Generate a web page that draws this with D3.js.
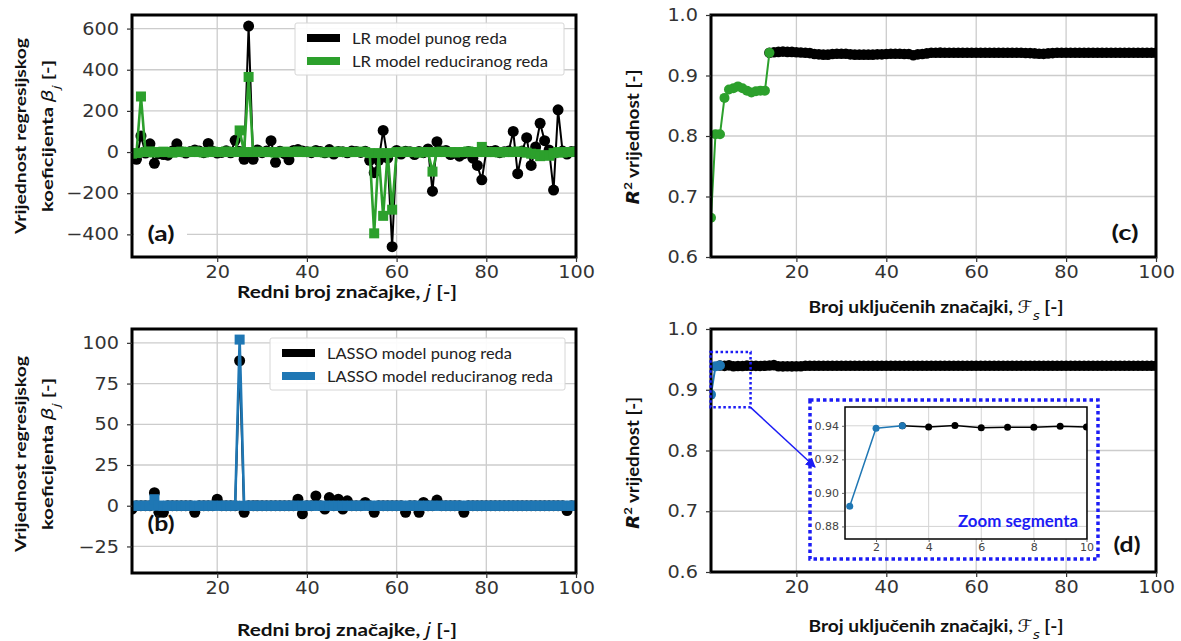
<!DOCTYPE html>
<html><head><meta charset="utf-8">
<script src="https://cdn.jsdelivr.net/npm/d3@7"></script>
<style>body{margin:0;background:#fff;} svg{display:block;}</style>
</head><body>
<svg id="chart" width="1181" height="641"></svg>
<script>
// ---------------- DATA ----------------
const featureIdx = d3.range(1, 101); // j = 1..100
const xTicks = [20, 40, 60, 80, 100];
const coefLRTicks = [-400, -200, 0, 200, 400, 600];
const coefLassoTicks = [-25, 0, 25, 50, 75, 100];
const r2Ticks = [0.6, 0.7, 0.8, 0.9, 1.0];
const insetXTicks = [2, 4, 6, 8, 10];
const insetYTicks = [0.88, 0.90, 0.92, 0.94];

const lrFull = [
 -30,-35,78,-5,40,-55,-8,-12,-15,5,
 40,2,-5,3,10,5,-3,42,4,-5,
 -2,6,-4,57,3,-35,612,-35,10,-3,
 5,55,-50,4,-8,-38,8,12,5,2,
 -3,8,3,-4,12,-10,3,2,-4,5,
 3,-2,4,-40,-100,-40,105,-30,-460,8,
 -10,4,2,-12,3,-3,15,-190,50,5,
 8,-12,-5,-20,-8,3,-30,-65,-135,5,
 3,8,-3,2,5,100,-105,5,70,-65,
 25,140,55,10,-185,205,5,-10,3,3];
const lrReduced = [
 -8,-5,270,0,3,-2,0,2,0,-3,
 0,2,0,0,3,0,-2,0,2,0,
 0,3,0,0,105,0,365,0,2,0,
 0,0,-3,0,2,0,0,3,0,0,
 2,0,0,-2,0,0,2,0,0,0,
 0,2,0,-5,-395,-5,-310,-5,-280,0,
 0,2,0,0,-3,0,0,-95,0,2,
 0,0,-2,0,0,3,0,0,25,0,
 0,0,-2,0,0,0,3,0,-3,-8,
 -10,-20,-15,-18,-5,0,-3,0,0,2];
const lassoFull = [
 -2,0,0,0,0,8,-4,-4,0,0,
 0,0,0,0,-4,0,0,0,0,4,
 0,0,0,0,89,-4,0,0,0,0,
 0,0,0,0,0,0,0,4,-5,0,
 0,6,0,-2,5,0,4,-2,3,0,
 0,0,2,0,-4,0,0,0,0,0,
 0,-4,0,0,-4,2,0,0,3.5,0,
 0,0,0,0,-4,0,0,0,0,0,
 0,0,0,0,0,0,0,0,0,0,
 0,0,0,0,0,0,0,-3,0,0];
const lassoReduced = [
 0,0,0,0,0,4,0,0,0,0,
 0,0,0,0,0,0,0,0,0,0,
 0,0,0,0,102,0,0,0,0,0,
 0,0,0,0,0,0,0,0,0,0,
 0,0,0,0,0,0,0,0,0,0,
 0,0,0,0,0,0,0,0,0,0,
 0,0,0,0,0,0,0,0,0,0,
 0,0,0,0,0,0,0,0,0,0,
 0,0,0,0,0,0,0,0,0,0,
 0,0,0,0,0,0,0,0,0,0];
const r2LR = [
 0.665,0.803,0.803,0.863,0.877,0.879,0.882,0.879,0.875,0.872,
 0.874,0.875,0.875,0.9375,0.9385,0.939,0.9395,0.939,0.939,0.9385,
 0.938,0.9375,0.937,0.9355,0.935,0.9345,0.9345,0.9355,0.936,0.936,
 0.936,0.935,0.9345,0.9345,0.9345,0.9345,0.9345,0.935,0.935,0.9355,
 0.936,0.936,0.936,0.9355,0.9355,0.9335,0.935,0.9355,0.9365,0.9375,
 0.9375,0.9378,0.9376,0.9375,0.9377,0.9376,0.9375,0.9376,0.9377,0.9375,
 0.9376,0.9375,0.9377,0.9376,0.9375,0.9376,0.9377,0.9375,0.9376,0.9375,
 0.9372,0.937,0.9365,0.936,0.9358,0.9365,0.937,0.9375,0.9376,0.9375,
 0.9377,0.9376,0.9375,0.9376,0.9377,0.9375,0.9376,0.9375,0.9377,0.9376,
 0.9375,0.9376,0.9377,0.9375,0.9376,0.9375,0.9377,0.9376,0.9375,0.9376];
const r2Lasso = [
 0.892,0.9385,0.9400,0.9393,0.9402,0.9388,0.9392,0.9392,0.9397,0.9393,
 0.9393,0.9392,0.9394,0.9398,0.9405,0.9388,0.9385,0.9386,0.9385,0.9386,
 0.9387,0.9394,0.9395,0.9396,0.9395,0.9394,0.9395,0.9396,0.9395,0.9394,
 0.9395,0.9396,0.9395,0.9394,0.9395,0.9396,0.9395,0.9394,0.9395,0.9396,
 0.9395,0.9394,0.9395,0.9396,0.9395,0.9394,0.9395,0.9396,0.9395,0.9394,
 0.9395,0.9396,0.9395,0.9394,0.9395,0.9396,0.9395,0.9394,0.9395,0.9396,
 0.9395,0.9394,0.9395,0.9396,0.9395,0.9394,0.9395,0.9396,0.9395,0.9394,
 0.9395,0.9396,0.9395,0.9394,0.9395,0.9396,0.9395,0.9394,0.9395,0.9396,
 0.9395,0.9394,0.9395,0.9396,0.9395,0.9394,0.9395,0.9396,0.9395,0.9394,
 0.9395,0.9396,0.9395,0.9394,0.9395,0.9396,0.9395,0.9394,0.9395,0.9396];
const nReducedLR = 14;     // green part of (c): features 1..14
const nReducedLasso = 3;   // blue part of (d): features 1..3

const legendLR = ["LR model punog reda", "LR model reduciranog reda"];
const legendLasso = ["LASSO model punog reda", "LASSO model reduciranog reda"];

// ---------------- STYLE ----------------
const GREEN = "#2ca02c", BLUE = "#1f77b4", BLACK = "#000";
const ZBLUE = "#1c1cf5";
const tickFont = "'DejaVu Sans', sans-serif";
const titleFont = "Lato, 'Open Sans', sans-serif";
const STRETCH = 1.1; // horizontal stretch of tick text seen in the reference

const svg = d3.select("#chart");
let clipN = 0;

function fit(sel, w) {
  sel.attr("textLength", w).attr("lengthAdjust", "spacingAndGlyphs");
}

function makePanel(box, xDom, yDom) {
  const g = svg.append("g");
  const x = d3.scaleLinear().domain(xDom).range([box.l, box.r]);
  const y = d3.scaleLinear().domain(yDom).range([box.b, box.t]);
  const id = "clip" + (clipN++);
  svg.append("clipPath").attr("id", id).append("rect")
    .attr("x", box.l).attr("y", box.t).attr("width", box.r - box.l).attr("height", box.b - box.t);
  return {g, x, y, box, clip: "url(#" + id + ")"};
}

function grid(p, xt, yt, color, w) {
  const gg = p.g.append("g").attr("clip-path", p.clip);
  gg.selectAll(".vx").data(xt).join("line")
    .attr("x1", d => p.x(d)).attr("x2", d => p.x(d)).attr("y1", p.box.t).attr("y2", p.box.b)
    .attr("stroke", color).attr("stroke-width", w);
  gg.selectAll(".hy").data(yt).join("line")
    .attr("y1", d => p.y(d)).attr("y2", d => p.y(d)).attr("x1", p.box.l).attr("x2", p.box.r)
    .attr("stroke", color).attr("stroke-width", w);
}

function axes(p, xt, yt, yfmt, opts) {
  const o = Object.assign({fs: 17.5, tick: 5, padX: 4, padY: 8, color: "#333", sw: 1.2, stretch: STRETCH}, opts || {});
  const ax = p.g.append("g").attr("transform", `translate(0,${p.box.b})`)
    .call(d3.axisBottom(p.x).tickValues(xt).tickSize(o.tick).tickPadding(o.padX).tickFormat(d3.format("d")));
  const ay = p.g.append("g").attr("transform", `translate(${p.box.l},0)`)
    .call(d3.axisLeft(p.y).tickValues(yt).tickSize(o.tick).tickPadding(o.padY).tickFormat(yfmt));
  [ax, ay].forEach(a => {
    a.select(".domain").remove();
    a.selectAll("line").attr("stroke", o.color).attr("stroke-width", o.sw);
    a.selectAll("text").attr("font-family", tickFont).attr("font-size", o.fs).attr("fill", o.color)
      .each(function () {
        const w = this.getComputedTextLength();
        d3.select(this).attr("textLength", w * o.stretch).attr("lengthAdjust", "spacingAndGlyphs");
      });
  });
}

function frame(p, w) {
  p.g.append("rect").attr("x", p.box.l).attr("y", p.box.t)
    .attr("width", p.box.r - p.box.l).attr("height", p.box.b - p.box.t)
    .attr("fill", "none").attr("stroke", "#000").attr("stroke-width", w);
}

function series(p, xs, ys, color, lw, marker, size) {
  const pts = xs.map((d, i) => [d, ys[i]]);
  const gg = p.g.append("g").attr("clip-path", p.clip);
  gg.append("path").datum(pts)
    .attr("d", d3.line().x(d => p.x(d[0])).y(d => p.y(d[1])))
    .attr("fill", "none").attr("stroke", color).attr("stroke-width", lw).attr("stroke-linejoin", "round");
  if (marker === "square") {
    gg.selectAll("rect.m").data(pts).join("rect")
      .attr("x", d => p.x(d[0]) - size / 2).attr("y", d => p.y(d[1]) - size / 2)
      .attr("width", size).attr("height", size).attr("fill", color);
  } else {
    gg.selectAll("circle.m").data(pts).join("circle")
      .attr("cx", d => p.x(d[0])).attr("cy", d => p.y(d[1])).attr("r", size).attr("fill", color);
  }
}

function legend(x0, y0, w, h, labels, colors, widths) {
  const g = svg.append("g").attr("transform", `translate(${x0},${y0})`);
  g.append("rect").attr("width", w).attr("height", h).attr("rx", 2)
    .attr("fill", "#fff").attr("fill-opacity", 0.92).attr("stroke", "#d6d6d6").attr("stroke-width", 1);
  labels.forEach((t, i) => {
    const cy = 15 + i * 23;
    g.append("rect").attr("x", 12).attr("y", cy - 4).attr("width", 33).attr("height", 8).attr("fill", colors[i]);
    const tx = g.append("text").attr("x", 57).attr("y", cy).attr("dy", "0.35em")
      .attr("font-family", titleFont).attr("font-size", 16).attr("fill", "#222").text(t);
    fit(tx, widths[i]);
  });
}

function rich(parent, parts, attrs) {
  const t = parent.append("text");
  Object.entries(attrs).forEach(([k, v]) => t.attr(k, v));
  parts.forEach(pt => {
    const s = t.append("tspan").text(pt.t);
    if (pt.italic) s.attr("font-style", "italic");
    if (pt.family) s.attr("font-family", pt.family);
    if (pt.weight) s.attr("font-weight", pt.weight);
    if (pt.sub) s.attr("baseline-shift", "sub").attr("font-size", pt.size || "70%");
    if (pt.sup) s.attr("baseline-shift", "super").attr("font-size", pt.size || "70%");
  });
  return t;
}

function panelLabel(x, y, txt, bg) {
  if (bg) svg.append("rect").attr("x", bg[0]).attr("y", bg[1]).attr("width", bg[2]).attr("height", bg[3]).attr("fill", "#fff");
  const t = svg.append("text").attr("x", x).attr("y", y).attr("dy", "0.35em").attr("text-anchor", "middle")
    .attr("font-family", titleFont).attr("font-weight", 700).attr("font-size", 20).attr("fill", "#111").text(txt);
  fit(t, 27);
}

function xTitle(cx, cy, parts, w) {
  const t = rich(svg, parts, {x: cx, y: cy, dy: "0.35em", "text-anchor": "middle", "font-family": titleFont,
    "font-weight": 700, "font-size": 17, fill: "#111"});
  fit(t, w);
}

function coefYTitle(cy) {
  const g = svg.append("g");
  const t1 = g.append("text").attr("transform", `translate(20,${cy}) rotate(-90)`).attr("dy", "0.35em")
    .attr("text-anchor", "middle").attr("font-family", titleFont).attr("font-weight", 700)
    .attr("font-size", 16).attr("fill", "#111").text("Vrijednost regresijskog");
  fit(t1, 196);
  const t2 = rich(g, [{t: "koeficijenta "}, {t: "β", italic: true, family: "'DejaVu Sans', sans-serif", weight: 400},
           {t: "j", italic: true, sub: true, family: "'DejaVu Sans', sans-serif", weight: 400}, {t: " [-]"}],
    {transform: `translate(47,${cy}) rotate(-90)`, dy: "0.35em", "text-anchor": "middle",
     "font-family": titleFont, "font-weight": 700, "font-size": 16, fill: "#111"});
  fit(t2, 152);
}

function r2YTitle(cy, w) {
  const t = rich(svg, [{t: "R", italic: true, family: "'DejaVu Sans', sans-serif"}, {t: "2", sup: true}, {t: " vrijednost [-]"}],
    {transform: `translate(633,${cy}) rotate(-90)`, dy: "0.35em", "text-anchor": "middle",
     "font-family": titleFont, "font-weight": 700, "font-size": 17, fill: "#111"});
  fit(t, w);
}

const jTitle = [{t: "Redni broj značajke, "}, {t: "j", italic: true, family: "'DejaVu Sans', sans-serif", weight: 400}, {t: " [-]"}];
const fTitle = [{t: "Broj uključenih značajki, "}, {t: "ℱ", italic: true, family: "'DejaVu Sans', sans-serif", weight: 400},
  {t: "s", italic: true, sub: true, family: "'DejaVu Sans', sans-serif", weight: 400}, {t: " [-]"}];

// ---------------- PANEL (a) ----------------
const pa = makePanel({l: 132, r: 576, t: 15, b: 257}, [1, 100], [-510, 666]);
grid(pa, xTicks, coefLRTicks, "#cccccc", 1.3);
series(pa, featureIdx, lrFull, BLACK, 2, "circle", 5.5);
series(pa, featureIdx, lrReduced, GREEN, 2.6, "square", 10);
frame(pa, 3);
axes(pa, xTicks, coefLRTicks, d3.format("d"));
legend(295, 23, 269, 52, legendLR, [BLACK, GREEN], [155, 196]);
panelLabel(161, 234, "(a)", [134, 219, 53, 31]);
coefYTitle(136);
xTitle(347, 292, jTitle, 220);

// ---------------- PANEL (b) ----------------
const pb = makePanel({l: 132, r: 576, t: 329, b: 573}, [1, 100], [-41.3, 108.5]);
grid(pb, xTicks, coefLassoTicks, "#cccccc", 1.3);
series(pb, featureIdx, lassoFull, BLACK, 2, "circle", 5.5);
series(pb, featureIdx, lassoReduced, BLUE, 2.6, "square", 10);
frame(pb, 3);
axes(pb, xTicks, coefLassoTicks, d3.format("d"));
legend(270, 338, 295, 52, legendLasso, [BLACK, BLUE], [185, 226]);
panelLabel(161, 524, "(b)", null);
coefYTitle(454);
xTitle(347, 630, jTitle, 220);

// ---------------- PANEL (c) ----------------
const pc = makePanel({l: 711, r: 1156, t: 15, b: 257}, [1, 100], [0.6, 1.0]);
grid(pc, xTicks, r2Ticks, "#cccccc", 1.3);
series(pc, featureIdx.slice(nReducedLR - 1), r2LR.slice(nReducedLR - 1), BLACK, 2, "circle", 5.3);
series(pc, featureIdx.slice(0, nReducedLR), r2LR.slice(0, nReducedLR), GREEN, 2, "circle", 5);
frame(pc, 3);
axes(pc, xTicks, r2Ticks, d3.format(".1f"));
panelLabel(1125, 233, "(c)", null);
r2YTitle(137, 135);
xTitle(936, 307, fTitle, 255);

// ---------------- PANEL (d) ----------------
const pd = makePanel({l: 711, r: 1156, t: 329, b: 572}, [1, 100], [0.6, 1.0]);
grid(pd, xTicks, r2Ticks, "#cccccc", 1.3);
series(pd, featureIdx.slice(nReducedLasso - 1), r2Lasso.slice(nReducedLasso - 1), BLACK, 2, "circle", 5.3);
series(pd, featureIdx.slice(0, nReducedLasso), r2Lasso.slice(0, nReducedLasso), BLUE, 2, "circle", 5);
frame(pd, 3);
axes(pd, xTicks, r2Ticks, d3.format(".1f"));
panelLabel(1127, 545, "(d)", null);
r2YTitle(463, 132);
xTitle(936, 626, fTitle, 255);

// zoom region box (in data space of panel d)
const zoomBox = {x0: 0.9, x1: 9.8, y0: 0.871, y1: 0.962};
svg.append("rect")
  .attr("x", pd.x(zoomBox.x0)).attr("y", pd.y(zoomBox.y1))
  .attr("width", pd.x(zoomBox.x1) - pd.x(zoomBox.x0)).attr("height", pd.y(zoomBox.y0) - pd.y(zoomBox.y1))
  .attr("fill", "none").attr("stroke", ZBLUE).attr("stroke-width", 2.5).attr("stroke-dasharray", "2.5,2.5");

// inset outer dotted frame
svg.append("rect").attr("x", 810).attr("y", 400).attr("width", 288).attr("height", 159)
  .attr("fill", "none").attr("stroke", ZBLUE).attr("stroke-width", 3.5).attr("stroke-dasharray", "3.5,3");

// arrow
const defs = svg.append("defs");
defs.append("marker").attr("id", "arr").attr("viewBox", "0 0 10 10").attr("refX", 9).attr("refY", 5)
  .attr("markerWidth", 10).attr("markerHeight", 10).attr("markerUnits", "userSpaceOnUse").attr("orient", "auto")
  .append("path").attr("d", "M0,0 L10,5 L0,10 z").attr("fill", ZBLUE);
svg.append("line").attr("x1", pd.x(zoomBox.x1)).attr("y1", pd.y(zoomBox.y0)).attr("x2", 815).attr("y2", 467)
  .attr("stroke", ZBLUE).attr("stroke-width", 1.5).attr("marker-end", "url(#arr)");

// inset axes
const pi = makePanel({l: 845, r: 1087, t: 407, b: 539}, [0.82, 10.02], [0.8725, 0.9512]);
pi.g.append("rect").attr("x", 845).attr("y", 407).attr("width", 242).attr("height", 132).attr("fill", "#fff");
grid(pi, insetXTicks, insetYTicks, "#d4d4d4", 1);
series(pi, featureIdx.slice(nReducedLasso - 1), r2Lasso.slice(nReducedLasso - 1), BLACK, 1.5, "circle", 3.5);
series(pi, featureIdx.slice(0, nReducedLasso), r2Lasso.slice(0, nReducedLasso), BLUE, 1.5, "circle", 3.5);
frame(pi, 1.5);
axes(pi, insetXTicks, insetYTicks, d3.format(".2f"), {fs: 10.5, tick: 3, padX: 2, padY: 3, color: "#444", sw: 0.8, stretch: 1.05});
const zs = svg.append("text").attr("x", 1018).attr("y", 521).attr("dy", "0.35em").attr("text-anchor", "middle")
  .attr("font-family", titleFont).attr("font-weight", 700).attr("font-size", 17).attr("fill", ZBLUE).text("Zoom segmenta");
fit(zs, 120);
</script>
</body></html>
